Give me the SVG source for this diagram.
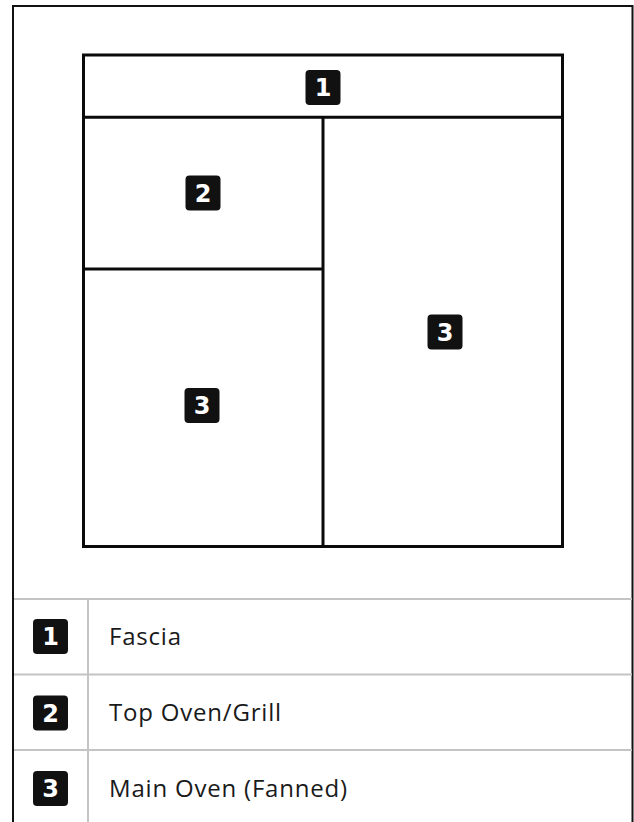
<svg xmlns="http://www.w3.org/2000/svg" width="634" height="822" viewBox="0 0 634 822">
  <style>
    .frame { fill: none; stroke: #111111; stroke-width: 2; }
    .unit { fill: none; stroke: #0a0a0a; stroke-width: 3; }
    .grid { fill: none; stroke: #c4c4c4; stroke-width: 2; }
    .badge { fill: #111111; }
    .num { fill: #ffffff; font-family: "DejaVu Sans", "Liberation Sans", sans-serif; font-weight: 700; font-size: 24px; text-anchor: middle; }
    .label { fill: #1a1a1a; font-family: "Open Sans", "Liberation Sans", sans-serif; font-size: 24px; letter-spacing: 0.8px; }
  </style>
  <rect x="0" y="0" width="634" height="822" fill="#ffffff"/>
  <g id="frame">
    <path class="frame" d="M13,830 V6 H632.5 V830"/>
  </g>
  <g id="oven">
    <rect class="unit" x="83.5" y="55" width="479" height="491.5"/>
    <line class="unit" x1="83.5" y1="117.3" x2="562.5" y2="117.3"/>
    <line class="unit" x1="323" y1="117.3" x2="323" y2="546.5"/>
    <line class="unit" x1="83.5" y1="269" x2="323" y2="269"/>
  </g>
  <g id="zone-1">
    <rect class="badge" x="305.5" y="70" width="35" height="35" rx="4"/>
    <text class="num" x="323" y="96">1</text>
  </g>
  <g id="zone-2">
    <rect class="badge" x="185.5" y="175.5" width="35" height="35" rx="4"/>
    <text class="num" x="203" y="201.5">2</text>
  </g>
  <g id="zone-3-left">
    <rect class="badge" x="184.5" y="388" width="35" height="35" rx="4"/>
    <text class="num" x="202" y="414">3</text>
  </g>
  <g id="zone-3-right">
    <rect class="badge" x="427.5" y="314.5" width="35" height="35" rx="4"/>
    <text class="num" x="445" y="340.5">3</text>
  </g>
  <g id="legend-grid">
    <line class="grid" x1="14" y1="599" x2="632" y2="599"/>
    <line class="grid" x1="14" y1="674.5" x2="632" y2="674.5"/>
    <line class="grid" x1="14" y1="750" x2="632" y2="750"/>
    <line class="grid" x1="88" y1="599" x2="88" y2="822"/>
  </g>
  <g id="legend-1">
    <rect class="badge" x="33" y="619" width="35" height="35" rx="4"/>
    <text class="num" x="50.5" y="645">1</text>
    <text class="label" x="109" y="645">Fascia</text>
  </g>
  <g id="legend-2">
    <rect class="badge" x="33" y="695.5" width="35" height="35" rx="4"/>
    <text class="num" x="50.5" y="721.5">2</text>
    <text class="label" x="109" y="721">Top Oven/Grill</text>
  </g>
  <g id="legend-3">
    <rect class="badge" x="33" y="771" width="35" height="35" rx="4"/>
    <text class="num" x="50.5" y="797">3</text>
    <text class="label" x="109" y="796.5">Main Oven (Fanned)</text>
  </g>
</svg>
